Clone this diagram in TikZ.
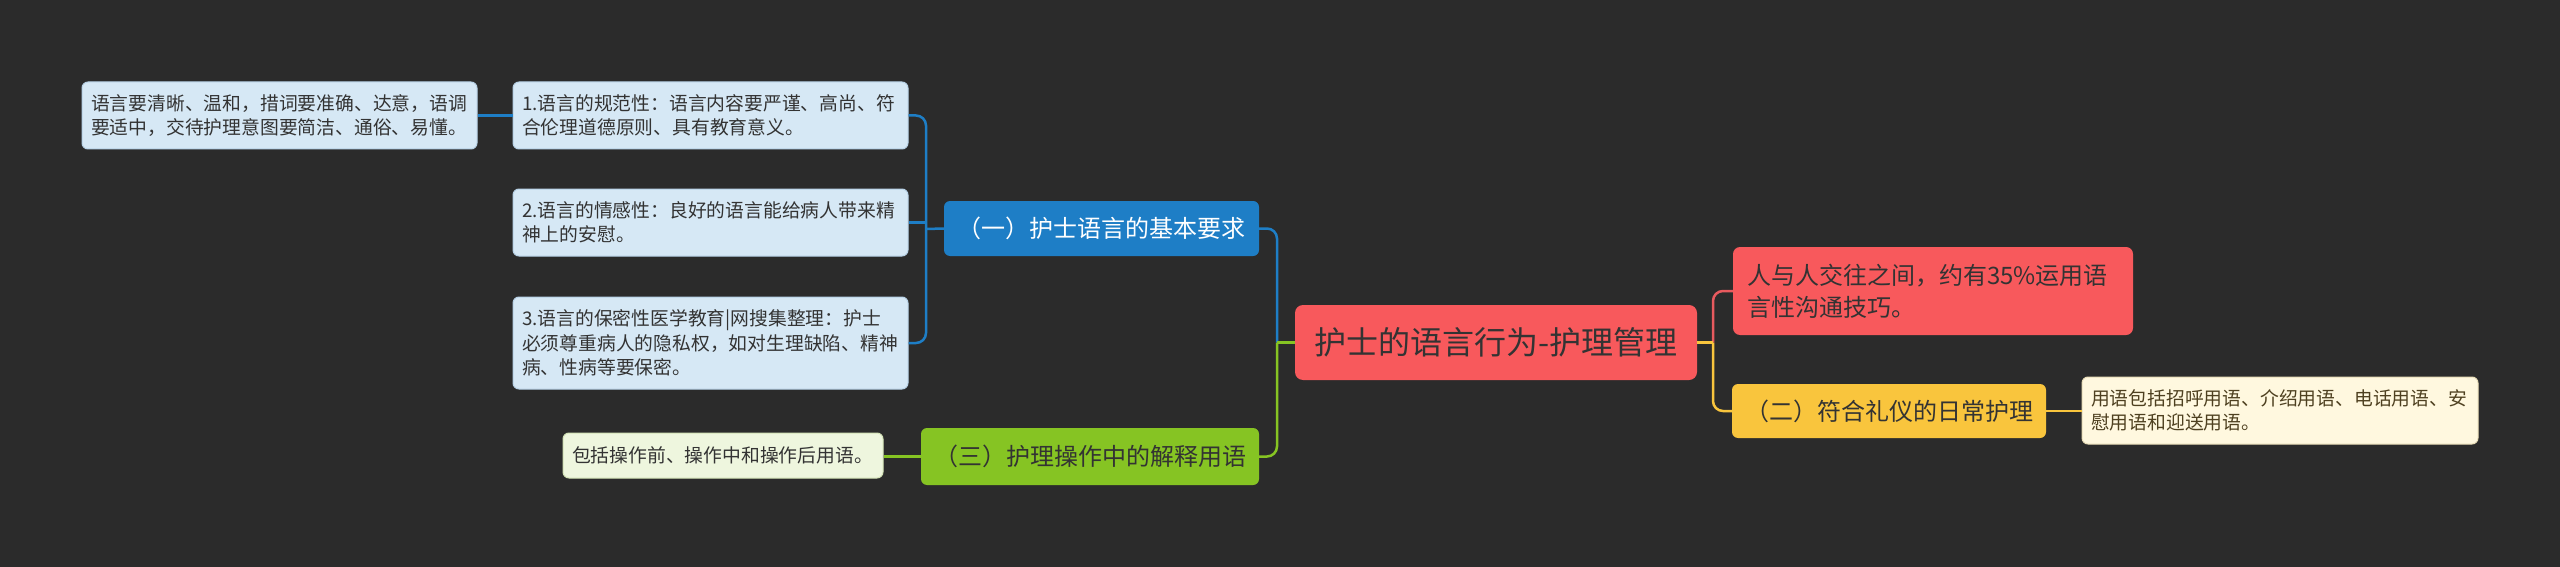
\documentclass[tikz,border=0pt]{standalone}
\usepackage{fontspec}
\setmainfont{Noto Sans CJK SC}
\definecolor{bg}{HTML}{2B2B2B}
\definecolor{leafblue}{HTML}{D6E8F5}
\definecolor{leafblueb}{HTML}{B7D1E6}
\definecolor{nodeblue}{HTML}{1E7EC6}
\definecolor{rootred}{HTML}{F8595C}
\definecolor{lineRed}{HTML}{E85A5E}
\definecolor{nodeyellow}{HTML}{F9C53D}
\definecolor{leafyellow}{HTML}{FFF8DF}
\definecolor{leafyellowb}{HTML}{E8DDB8}
\definecolor{nodegreen}{HTML}{86C423}
\definecolor{leafgreen}{HTML}{EEF6DE}
\definecolor{leafgreenb}{HTML}{D3E3B6}
\definecolor{textdark}{HTML}{333333}
\definecolor{textbrown}{HTML}{4E4020}
\begin{document}
\begin{tikzpicture}[x=1pt,y=-1pt]
\tikzset{
  leafbox/.style={rounded corners=6pt, line width=1pt, inner xsep=9pt, inner ysep=0pt,
    align=left, font=\fontsize{18.8}{24.5}\selectfont, text=textdark},
  bleaf/.style={leafbox, fill=leafblue, draw=leafblueb, text width=377pt},
  midbox/.style={rounded corners=6pt, inner sep=0pt, font=\fontsize{24}{30}\selectfont, align=center},
  conn/.style={line width=2.5pt},
  bl/.style={conn, draw=nodeblue},
  gr/.style={conn, draw=nodegreen},
  rd/.style={conn, draw=lineRed},
  yl/.style={conn, draw=nodeyellow},
}
\fill[bg] (0,0) rectangle (2560,567);
\useasboundingbox (0,0) rectangle (2560,567);

% left leaves
\node[bleaf, minimum height=67pt] (L0) at (279.5,115.5) {语言要清晰、温和，措词要准确、达意，语调\\要适中，交待护理意图要简洁、通俗、易懂。};
\node[bleaf, minimum height=67pt] (L1) at (710.5,115.5) {1.语言的规范性：语言内容要严谨、高尚、符\\合伦理道德原则、具有教育意义。};
\node[bleaf, minimum height=67pt] (L2) at (710.5,222.5) {2.语言的情感性：良好的语言能给病人带来精\\神上的安慰。};
\node[bleaf, minimum height=92pt] (L3) at (710.5,343) {3.语言的保密性医学教育|网搜集整理：护士\\必须尊重病人的隐私权，如对生理缺陷、精神\\病、性病等要保密。};

% branch nodes
\node[midbox, fill=nodeblue, text=white, minimum width=315pt, minimum height=55pt] (one) at (1101.5,228.5) {（一）护士语言的基本要求};
\node[midbox, fill=nodegreen, text=textdark, minimum width=338pt, minimum height=57pt] (three) at (1090,456.5) {（三）护理操作中的解释用语};
\node[leafbox, fill=leafgreen, draw=leafgreenb, text width=302pt, minimum height=45pt] (g3leaf) at (723,455.5) {包括操作前、操作中和操作后用语。};

% root
\node[rounded corners=8pt, inner sep=0pt, fill=rootred, text=textdark, minimum width=402pt, minimum height=75pt, font=\fontsize{32}{38}\selectfont] (root) at (1496,342.5) {护士的语言行为-护理管理};

% right side
\node[rounded corners=7pt, inner xsep=14pt, inner ysep=0pt, fill=rootred, text=textdark, align=left, text width=372pt, minimum height=88pt, font=\fontsize{24}{32}\selectfont] (red) at (1933,291) {人与人交往之间，约有35\%运用语\\言性沟通技巧。};
\node[midbox, fill=nodeyellow, text=textdark, minimum width=314pt, minimum height=54pt] (two) at (1889,411) {（二）符合礼仪的日常护理};
\node[leafbox, fill=leafyellow, draw=leafyellowb, text=textbrown, text width=378pt, minimum height=67pt] (yleaf) at (2280,410.5) {用语包括招呼用语、介绍用语、电话用语、安\\慰用语和迎送用语。};

% junctions
\coordinate (jL) at (926,229);
\coordinate (jR) at (1277,342.5);
\coordinate (jRR) at (1713,342.5);

% connectors left
\draw[bl] (L0.east) -- (L1.west);
\draw[bl] (one.west) -- (jL);
\draw[bl, rounded corners=10pt] (jL) |- (L1.east);
\draw[bl, rounded corners=10pt] (jL) |- (L3.east);
\draw[bl] (L2.east) -- (L2.east -| jL);

% root left
\draw[bl, rounded corners=10pt] (jR) |- (one.east);
\draw[gr, rounded corners=10pt] (jR) |- (three.east);
\draw[gr] (root.west) -- (jR);
\draw[gr] (three.west) -- (three.west -| g3leaf.east);

% root right
\draw[rd, rounded corners=10pt] (jRR) |- (red.west);
\draw[yl, rounded corners=10pt] (jRR) |- (two.west);
\draw[yl] (root.east) -- (jRR);
\draw[yl] (two.east) -- (two.east -| yleaf.west);
\end{tikzpicture}
\end{document}
